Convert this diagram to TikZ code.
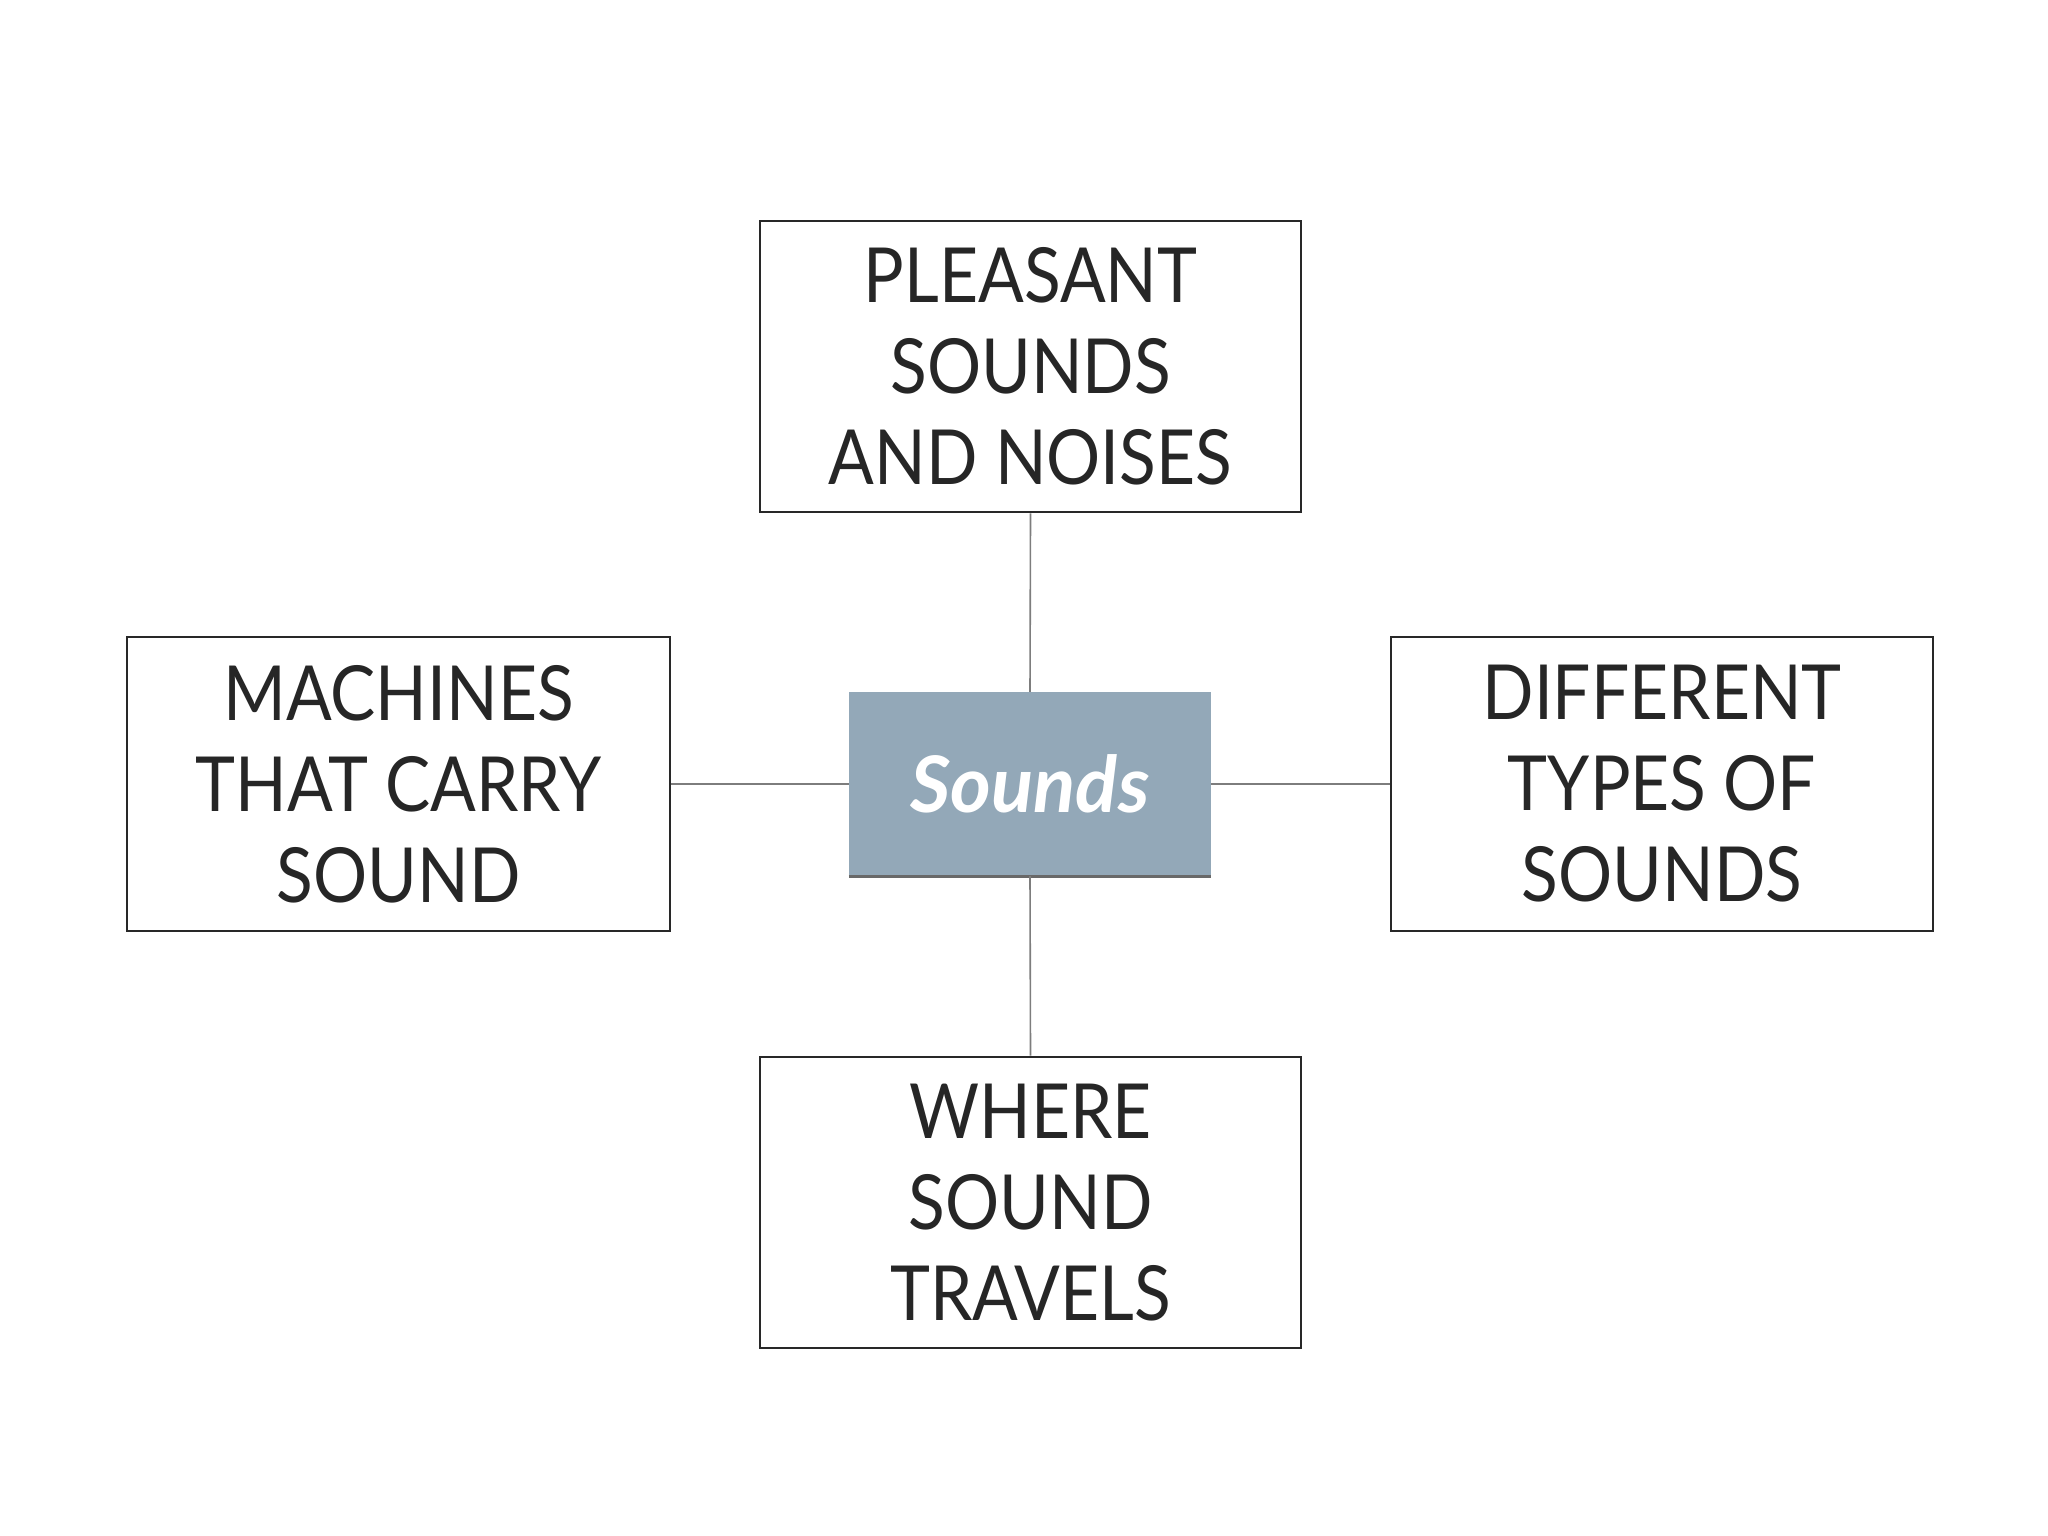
\documentclass[tikz,border=0pt]{standalone}
\usepackage{fontspec}
\setmainfont{Lato}
\newfontfamily\narrowlato[FakeStretch=0.89]{Lato}
\definecolor{hubfill}{RGB}{147,168,184}
\definecolor{boxline}{RGB}{40,40,40}
\definecolor{linkgray}{RGB}{125,125,125}
\begin{document}
\begin{tikzpicture}[x=1pt,y=-1pt,
  topicbox/.style={draw=boxline,line width=2.8pt,fill=white,inner sep=0pt,
    minimum width=541pt,minimum height=291pt,align=center,text=black!85,
    font=\narrowlato\fontsize{76}{91}\selectfont},
  hubbox/.style={fill=hubfill,inner sep=0pt,minimum width=362pt,minimum height=184pt,
    text=white,font=\fontsize{78}{90}\selectfont\bfseries\itshape},
  link/.style={draw=linkgray,line width=1.6pt}]
\useasboundingbox (0,0) rectangle (2048,1536);
\fill[white] (0,0) rectangle (2048,1536);
\node[hubbox] (hub) at (1030,784) {Sounds};
\node[topicbox] (top) at (1030.5,366.5) {PLEASANT\\SOUNDS\\AND NOISES};
\node[topicbox,minimum width=543pt,minimum height=294pt] (left) at (398.5,784) {MACHINES\\THAT CARRY\\SOUND};
\node[topicbox,minimum width=542pt,minimum height=294pt] (right) at (1662,784) {DIFFERENT\\TYPES OF\\SOUNDS};
\node[topicbox] (bottom) at (1030.5,1202.5) {WHERE\\SOUND\\TRAVELS};
\draw[boxline!70,line width=3pt] (hub.south west) -- (hub.south east);
\draw[link] (top.south) -- (hub.north);
\draw[link] (hub.south) -- (bottom.north);
\draw[link] (left.east) -- (hub.west);
\draw[link] (hub.east) -- (right.west);
\end{tikzpicture}
\end{document}
